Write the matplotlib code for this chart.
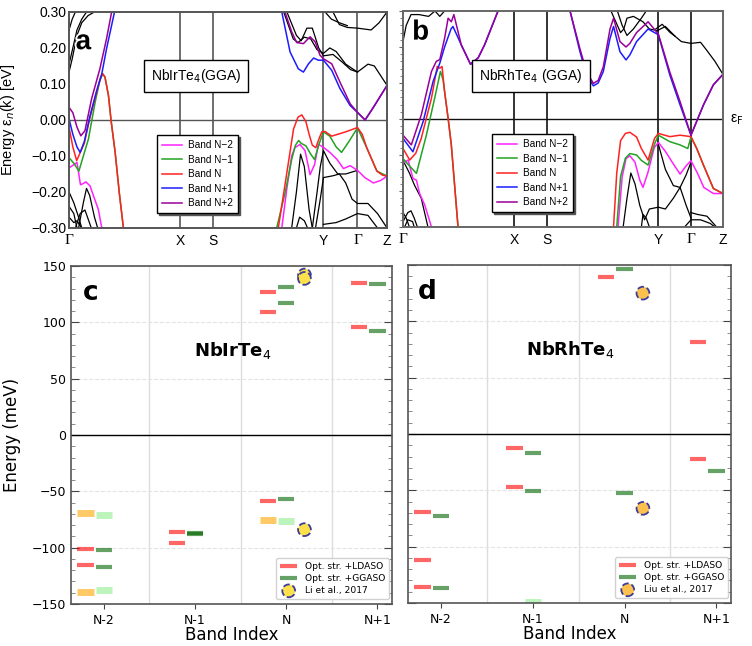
import matplotlib.pyplot as plt
import matplotlib.patheffects as pe
from matplotlib.ticker import MultipleLocator
import numpy as np

plt.rcParams['font.family'] = 'DejaVu Sans'

# ---------------- band structures (top row) ----------------
kpath_labels = ['\u0393', 'X', 'S', 'Y', '\u0393', 'Z']
a_kticks = [0.0, 0.349, 0.453, 0.800, 0.907, 1.0]
b_kticks = [0.0, 0.347, 0.450, 0.798, 0.900, 1.0]

band_names = ['Band N\u22122', 'Band N\u22121', 'Band N', 'Band N+1', 'Band N+2']
band_colors = ['#ff22ff', '#22a322', '#ff2222', '#1c1cff', '#990099']

# NbIrTe4 (k, E[eV]), one list per visible segment
a_n2 = [[(0, -0.133), (0.012, -0.126), (0.025, -0.118), (0.036, -0.18), (0.046, -0.176),
         (0.053, -0.172), (0.066, -0.183), (0.077, -0.211), (0.092, -0.248), (0.103, -0.30)],
        [(0.669, -0.30), (0.685, -0.19), (0.7, -0.1), (0.71, -0.077), (0.726, -0.068),
         (0.742, -0.085), (0.758, -0.152), (0.772, -0.124), (0.784, -0.068), (0.8, -0.076),
         (0.82, -0.09), (0.842, -0.109), (0.863, -0.135), (0.884, -0.127), (0.907, -0.14),
         (0.93, -0.16), (0.957, -0.175), (0.98, -0.168), (1.0, -0.156)]]
a_n1 = [[(0, -0.105), (0.015, -0.12), (0.031, -0.142), (0.045, -0.1), (0.061, -0.053),
         (0.082, 0.049), (0.097, 0.11), (0.106, 0.128), (0.113, 0.119), (0.124, 0.068),
         (0.132, 0.0), (0.145, -0.09), (0.158, -0.202), (0.171, -0.30)],
        [(0.653, -0.30), (0.68, -0.2), (0.7, -0.11), (0.712, -0.07), (0.722, -0.057),
         (0.73, -0.065), (0.745, -0.072), (0.76, -0.095), (0.772, -0.11), (0.785, -0.07),
         (0.795, -0.045), (0.8, -0.033), (0.82, -0.045), (0.84, -0.075), (0.857, -0.09),
         (0.88, -0.06), (0.907, -0.022), (0.936, -0.077), (0.968, -0.142), (1.0, -0.156)]]
a_n = [[(0, -0.02), (0.012, -0.075), (0.024, -0.113), (0.033, -0.095), (0.048, -0.065),
        (0.066, 0.007), (0.087, 0.077), (0.1, 0.12), (0.106, 0.128), (0.113, 0.119),
        (0.124, 0.068), (0.132, 0.0), (0.145, -0.09), (0.158, -0.202), (0.171, -0.30)],
       [(0.658, -0.30), (0.685, -0.146), (0.706, -0.025), (0.72, 0.008), (0.732, 0.014),
        (0.745, -0.005), (0.755, -0.04), (0.765, -0.07), (0.776, -0.077), (0.787, -0.05),
        (0.795, -0.033), (0.805, -0.032), (0.826, -0.045), (0.87, -0.033), (0.907, -0.021),
        (0.922, -0.04), (0.936, -0.077), (0.968, -0.142), (0.985, -0.153), (1.0, -0.156)]]
a_np1 = [[(0, 0.003), (0.012, -0.04), (0.025, -0.075), (0.035, -0.09), (0.048, -0.06),
          (0.066, 0.012), (0.087, 0.082), (0.103, 0.128), (0.118, 0.198), (0.143, 0.30)],
         [(0.669, 0.30), (0.695, 0.189), (0.721, 0.142), (0.737, 0.133), (0.753, 0.156),
          (0.769, 0.172), (0.784, 0.166), (0.8, 0.166), (0.826, 0.138), (0.852, 0.087),
          (0.884, 0.04), (0.907, 0.021), (0.931, 0.0), (0.957, 0.035), (1.0, 0.096)]]
a_np2 = [[(0, 0.035), (0.012, 0.02), (0.025, -0.02), (0.037, -0.044), (0.05, -0.03),
          (0.071, 0.059), (0.097, 0.142), (0.118, 0.226), (0.134, 0.30)],
         [(0.679, 0.30), (0.7, 0.245), (0.716, 0.215), (0.737, 0.212), (0.758, 0.231),
          (0.774, 0.217), (0.789, 0.18), (0.8, 0.17), (0.826, 0.156), (0.852, 0.105),
          (0.884, 0.045), (0.907, 0.021), (0.931, 0.0), (0.957, 0.035), (1.0, 0.096)]]
a_other = [
    [(0, 0.133), (0.01, 0.17), (0.025, 0.235), (0.04, 0.27), (0.06, 0.29), (0.08, 0.30)],
    [(0, 0.155), (0.012, 0.2), (0.025, 0.25), (0.04, 0.28), (0.055, 0.30)],
    [(0, 0.25), (0.01, 0.28), (0.02, 0.30)],
    [(0, -0.2), (0.015, -0.23), (0.03, -0.27), (0.04, -0.30)],
    [(0, -0.24), (0.015, -0.26), (0.025, -0.30)],
    [(0.03, -0.30), (0.045, -0.23), (0.055, -0.19), (0.065, -0.21), (0.08, -0.27), (0.09, -0.30)],
    [(0.02, -0.30), (0.035, -0.26), (0.05, -0.25), (0.062, -0.28), (0.07, -0.30)],
    [(0, -0.27), (0.015, -0.285), (0.025, -0.28), (0.04, -0.30)],
    [(0.675, 0.30), (0.705, 0.225), (0.72, 0.215), (0.74, 0.23), (0.76, 0.225), (0.78, 0.195),
     (0.8, 0.185), (0.82, 0.2), (0.84, 0.19), (0.87, 0.155), (0.907, 0.133), (0.94, 0.155),
     (0.96, 0.15), (1.0, 0.096)],
    [(0.685, 0.30), (0.715, 0.235), (0.73, 0.22), (0.748, 0.255), (0.765, 0.255), (0.785, 0.2),
     (0.8, 0.178), (0.83, 0.182), (0.86, 0.16), (0.885, 0.14), (0.907, 0.133)],
    [(0.83, 0.30), (0.85, 0.265), (0.875, 0.257), (0.907, 0.255), (0.95, 0.25), (0.975, 0.27), (1.0, 0.30)],
    [(0.805, 0.30), (0.825, 0.28), (0.85, 0.27), (0.875, 0.262)],
    [(0.7, -0.30), (0.715, -0.2), (0.728, -0.095), (0.74, -0.13), (0.755, -0.25), (0.765, -0.30)],
    [(0.765, -0.30), (0.78, -0.2), (0.79, -0.13), (0.8, -0.085), (0.82, -0.12), (0.845, -0.15),
     (0.87, -0.15), (0.907, -0.14)],
    [(0.775, -0.30), (0.79, -0.22), (0.8, -0.16), (0.83, -0.155), (0.85, -0.15), (0.87, -0.175),
     (0.89, -0.22), (0.907, -0.232), (0.94, -0.232), (0.97, -0.26), (1.0, -0.30)],
    [(0.8, -0.29), (0.84, -0.285), (0.87, -0.275), (0.907, -0.26), (0.94, -0.265), (0.97, -0.30)],
    [(0.715, -0.30), (0.725, -0.27), (0.74, -0.28), (0.75, -0.30)],
]

# NbRhTe4
b_n2 = [[(0, -0.123), (0.016, -0.114), (0.031, -0.165), (0.042, -0.17), (0.052, -0.207),
         (0.068, -0.239), (0.089, -0.30)],
        [(0.672, -0.30), (0.685, -0.16), (0.697, -0.11), (0.709, -0.102), (0.725, -0.12),
         (0.74, -0.17), (0.75, -0.19), (0.765, -0.15), (0.785, -0.08), (0.798, -0.065),
         (0.82, -0.09), (0.845, -0.125), (0.866, -0.153), (0.885, -0.13), (0.9, -0.116),
         (0.92, -0.15), (0.94, -0.19), (0.97, -0.207), (1.0, -0.207)]]
b_n1 = [[(0, -0.11), (0.02, -0.13), (0.042, -0.151), (0.073, -0.045), (0.099, 0.058),
         (0.117, 0.132), (0.125, 0.11), (0.141, 0.002), (0.151, -0.072), (0.172, -0.30)],
        [(0.668, -0.30), (0.68, -0.16), (0.695, -0.109), (0.709, -0.096), (0.73, -0.10),
         (0.745, -0.115), (0.766, -0.128), (0.786, -0.07), (0.798, -0.045), (0.834, -0.063),
         (0.866, -0.072), (0.89, -0.082), (0.9, -0.05), (0.918, -0.082), (0.939, -0.128),
         (0.97, -0.193), (1.0, -0.207)]]
b_n = [[(0, -0.082), (0.021, -0.114), (0.04, -0.095), (0.057, -0.054), (0.089, 0.058),
        (0.107, 0.146), (0.115, 0.141), (0.122, 0.146), (0.13, 0.076), (0.141, 0.002),
        (0.151, -0.072), (0.172, -0.30)],
       [(0.658, -0.30), (0.668, -0.15), (0.68, -0.06), (0.695, -0.04), (0.709, -0.037),
        (0.73, -0.05), (0.745, -0.082), (0.766, -0.114), (0.786, -0.054), (0.798, -0.04),
        (0.834, -0.049), (0.866, -0.045), (0.9, -0.049), (0.918, -0.082), (0.939, -0.128),
        (0.97, -0.193), (1.0, -0.207)]]
b_np1 = [[(0, -0.054), (0.031, -0.091), (0.063, -0.007), (0.094, 0.104), (0.115, 0.155),
          (0.13, 0.2), (0.15, 0.25), (0.156, 0.257), (0.17, 0.23), (0.182, 0.206),
          (0.211, 0.152), (0.235, 0.17), (0.255, 0.206), (0.297, 0.30)],
         [(0.522, 0.30), (0.553, 0.187), (0.574, 0.122), (0.595, 0.092), (0.61, 0.1),
          (0.626, 0.132), (0.647, 0.224), (0.658, 0.257), (0.678, 0.187), (0.697, 0.164),
          (0.709, 0.178), (0.73, 0.215), (0.766, 0.25), (0.798, 0.234), (0.834, 0.122),
          (0.866, 0.039), (0.9, -0.045), (0.939, 0.039), (0.97, 0.095), (1.0, 0.124)]]
b_np2 = [[(0, -0.045), (0.026, -0.072), (0.057, 0.011), (0.089, 0.132), (0.104, 0.16),
          (0.115, 0.165), (0.13, 0.224), (0.141, 0.28), (0.151, 0.27), (0.159, 0.29),
          (0.182, 0.206), (0.211, 0.152), (0.235, 0.17), (0.255, 0.206), (0.297, 0.30)],
         [(0.522, 0.30), (0.553, 0.195), (0.574, 0.13), (0.595, 0.099), (0.61, 0.107),
          (0.626, 0.145), (0.647, 0.25), (0.658, 0.28), (0.678, 0.215), (0.697, 0.2),
          (0.709, 0.21), (0.73, 0.24), (0.766, 0.27), (0.798, 0.236), (0.834, 0.13),
          (0.866, 0.048), (0.9, -0.045), (0.939, 0.039), (0.97, 0.095), (1.0, 0.124)]]
b_other = [
    [(0, -0.115), (0.02, -0.15), (0.036, -0.184), (0.057, -0.22), (0.078, -0.30)],
    [(0, -0.26), (0.01, -0.275), (0.02, -0.30)],
    [(0, -0.285), (0.015, -0.26), (0.025, -0.255), (0.035, -0.275), (0.045, -0.30)],
    [(0.005, -0.30), (0.015, -0.28), (0.03, -0.285), (0.035, -0.30)],
    [(0, 0.215), (0.01, 0.26), (0.025, 0.29), (0.05, 0.29), (0.08, 0.285), (0.1, 0.30),
     (0.115, 0.285), (0.13, 0.30)],
    [(0.798, 0.247), (0.82, 0.257), (0.85, 0.23), (0.87, 0.215), (0.9, 0.21), (0.93, 0.213),
     (0.95, 0.19), (0.975, 0.16), (1.0, 0.124)],
    [(0.79, 0.25), (0.81, 0.263), (0.835, 0.24), (0.85, 0.23)],
    [(0.65, 0.30), (0.665, 0.27), (0.68, 0.24), (0.69, 0.25), (0.7, 0.28), (0.72, 0.285),
     (0.75, 0.27), (0.77, 0.25), (0.798, 0.245)],
    [(0.67, 0.30), (0.685, 0.26), (0.7, 0.232), (0.72, 0.25), (0.745, 0.28), (0.76, 0.30)],
    [(0.688, -0.30), (0.7, -0.22), (0.712, -0.15), (0.725, -0.18), (0.74, -0.24), (0.755, -0.28),
     (0.77, -0.25), (0.798, -0.245), (0.82, -0.25), (0.845, -0.22), (0.866, -0.19),
     (0.885, -0.155), (0.9, -0.12)],
    [(0.798, -0.07), (0.82, -0.14), (0.845, -0.185), (0.866, -0.19), (0.885, -0.24), (0.9, -0.275)],
    [(0.9, -0.26), (0.92, -0.265), (0.95, -0.27), (0.98, -0.30)],
    [(0.88, -0.30), (0.9, -0.28), (0.93, -0.28), (0.96, -0.29), (0.975, -0.30)],
    [(0.745, -0.30), (0.75, -0.265), (0.76, -0.275), (0.77, -0.30)],
]

# ---------------- energy levels (bottom row), meV ----------------
band_index = ['N-2', 'N-1', 'N', 'N+1']

c_lda_idx = [0, 0, 1, 1, 2, 2, 2, 3, 3]
c_lda_E = [-101, -115, -86, -95.5, 127, 109, -59, 134.5, 96]
c_gga_idx = [0, 0, 1, 1, 2, 2, 2, 3, 3]
c_gga_E = [-102, -117, -87, -88, 131.5, 117, -57, 133.7, 92]
c_lda2_idx = [0, 0, 2]
c_lda2_E = [-69, -139, -75]
c_gga2_idx = [0, 0, 2]
c_gga2_E = [-71, -137.5, -76]
c_ref_idx = [2, 2, 2]
c_ref_E = [142, 139, -84]

d_lda_idx = [0, 0, 0, 1, 1, 2, 3, 3]
d_lda_E = [-69.5, -111.5, -135.5, -12, -47.5, 139.5, 81.5, -22]
d_gga_idx = [0, 0, 1, 1, 2, 2, 3]
d_gga_E = [-72.5, -137, -17, -51, 146.5, -52.5, -33]
d_lda2_idx = []
d_lda2_E = []
d_gga2_idx = [1]
d_gga2_E = [-149]
d_ref_idx = [2, 2]
d_ref_E = [125, -66]

fig = plt.figure(figsize=(7.52, 6.46), dpi=100)

top_font = 'Liberation Sans'


def draw_bands(ax, bands, other, kticks, vline_color, spine_color):
    for seg in other:
        k, e = zip(*seg)
        ax.plot(k, e, color='black', lw=0.9)
    for segs, name, col in zip(bands, band_names, band_colors):
        for i, seg in enumerate(segs):
            k, e = zip(*seg)
            ax.plot(k, e, color=col, lw=1.1, label=name if i == 0 else None)
    for kv in kticks[1:-1]:
        ax.axvline(kv, color=vline_color, lw=1.2, zorder=0)
    ax.axhline(0, color=vline_color, lw=1.0, zorder=0)
    ax.set_xlim(0, 1)
    ax.set_ylim(-0.3, 0.3)
    ax.set_xticks(kticks)
    ax.set_xticklabels(kpath_labels, fontsize=10, fontfamily=top_font)
    for lab, txt in zip(ax.get_xticklabels(), kpath_labels):
        if txt == '\u0393':
            lab.set_fontfamily('Liberation Serif')
            lab.set_fontsize(11)
    ax.tick_params(axis='x', length=0, pad=4)
    for s in ax.spines.values():
        s.set_color(spine_color)
        s.set_linewidth(1.4)
    leg = ax.legend(loc='lower left', bbox_to_anchor=(0.277, 0.068), borderaxespad=0,
                    prop={'family': top_font, 'size': 7.2}, fancybox=False, edgecolor='black',
                    framealpha=1, handlelength=2.0, labelspacing=0.45, borderpad=0.5,
                    handletextpad=0.6,
                    shadow={'color': '#555555', 'alpha': 1, 'ox': 1.5, 'oy': -1.5})
    leg.get_frame().set_linewidth(1.0)


ax_a = fig.add_axes([0.0918, 0.6471, 0.4229, 0.3344])
draw_bands(ax_a, [a_n2, a_n1, a_n, a_np1, a_np2], a_other, a_kticks, '#555555', '#555555')
ax_a.set_yticks(np.arange(-0.3, 0.31, 0.1))
ax_a.set_yticklabels(['\u22120.30', '\u22120.20', '\u22120.10', '0.00', '0.10', '0.20', '0.30'],
                     fontsize=10, fontfamily=top_font)
ax_a.tick_params(axis='y', length=0, pad=2)
ax_a.set_ylabel('Energy \u03b5$_n$(k) [eV]', fontsize=10.5, fontfamily=top_font)
ax_a.yaxis.set_label_coords(-0.165, 0.5)
ax_a.text(0.40, 0.704, 'NbIrTe$_4$(GGA)', transform=ax_a.transAxes, ha='center', va='center',
          fontsize=10, fontfamily=top_font,
          bbox=dict(boxstyle='square,pad=0.5', fc='white', ec='black', lw=1.0))
ax_a.text(0.045, 0.86, 'a', transform=ax_a.transAxes, fontsize=20, fontweight='bold',
          fontfamily=top_font, ha='center', va='center',
          path_effects=[pe.withStroke(linewidth=2.5, foreground='white')])

ax_b = fig.add_axes([0.5359, 0.6486, 0.4255, 0.3344])
draw_bands(ax_b, [b_n2, b_n1, b_n, b_np1, b_np2], b_other, b_kticks, '#111111', '#666666')
ax_b.yaxis.set_major_locator(MultipleLocator(0.1))
ax_b.yaxis.set_minor_locator(MultipleLocator(0.02))
ax_b.tick_params(axis='y', which='major', length=3, labelleft=False, color='#666666')
ax_b.tick_params(axis='y', which='minor', length=2, color='#666666')
ax_b.text(0.40, 0.70, 'NbRhTe$_4$ (GGA)', transform=ax_b.transAxes, ha='center', va='center',
          fontsize=10, fontfamily=top_font,
          bbox=dict(boxstyle='square,pad=0.5', fc='white', ec='black', lw=1.0))
ax_b.text(0.055, 0.90, 'b', transform=ax_b.transAxes, fontsize=20, fontweight='bold',
          fontfamily=top_font, ha='center', va='center',
          path_effects=[pe.withStroke(linewidth=2.5, foreground='white')])
fig.text(737 / 752, 1 - 120 / 646, '\u03b5$_\\mathrm{F}$', fontsize=10, fontfamily=top_font,
         ha='center', va='center')


def draw_levels(ax, lda, gga, lda2, gga2, ref, ref_label, ref_face, name, letter):
    x, e = np.array(lda2[0], dtype=float), lda2[1]
    if len(e):
        ax.hlines(e, x - 0.29, x - 0.11, colors='orange', lw=5, alpha=0.6)
    x, e = np.array(gga2[0], dtype=float), gga2[1]
    ax.hlines(e, x - 0.09, x + 0.09, colors='lightgreen', lw=5, alpha=0.6)
    x, e = np.array(lda[0], dtype=float), lda[1]
    ax.hlines(e, x - 0.29, x - 0.11, colors='red', lw=3, alpha=0.6, label='Opt. str. +LDASO')
    x, e = np.array(gga[0], dtype=float), gga[1]
    ax.hlines(e, x - 0.09, x + 0.09, colors='darkgreen', lw=3, alpha=0.6, label='Opt. str. +GGASO')
    x, e = np.array(ref[0], dtype=float), ref[1]
    ax.scatter(x + 0.2, e, s=85, facecolor=ref_face, edgecolor='#3d3d99', linewidths=1.3,
               linestyle='--', zorder=5, label=ref_label)
    ax.axhline(0, color='black', lw=1.0)
    ax.set_xlim(-0.36, 3.16)
    ax.set_ylim(-150, 150)
    ax.set_xticks(range(len(band_index)))
    ax.set_xticklabels(band_index, fontsize=9)
    ax.set_xticks([0.5, 1.5, 2.5], minor=True)
    ax.grid(axis='x', which='minor', color='#dddddd', lw=1.0)
    ax.grid(axis='y', which='major', color='#e4e4e4', lw=0.8, ls='--')
    ax.set_axisbelow(True)
    ax.yaxis.set_major_locator(MultipleLocator(50))
    ax.yaxis.set_minor_locator(MultipleLocator(10))
    ax.tick_params(axis='x', which='major', direction='out', length=3.5, color='#444444')
    ax.tick_params(axis='x', which='minor', length=0)
    ax.tick_params(axis='y', which='both', direction='in', left=True, right=True, color='#444444')
    ax.tick_params(axis='y', which='major', length=6, labelsize=9)
    ax.tick_params(axis='y', which='minor', length=3, color='#777777')
    for s in ax.spines.values():
        s.set_color('#555555')
        s.set_linewidth(1.2)
    ax.set_xlabel('Band Index', fontsize=12)
    ax.xaxis.set_label_coords(0.5, -0.066)
    ax.text(1.41, 75, name, fontsize=13, fontweight='bold', ha='center', va='center')
    ax.text(0.06, 0.92, letter, transform=ax.transAxes, fontsize=19, fontweight='bold',
            ha='center', va='center')
    ax.legend(loc='lower right', bbox_to_anchor=(0.99, 0.015), borderaxespad=0, fontsize=6.6,
              handlelength=1.9, labelspacing=0.35, framealpha=0.9)


ax_c = fig.add_axes([0.0944, 0.0650, 0.4269, 0.5232])
draw_levels(ax_c, (c_lda_idx, c_lda_E), (c_gga_idx, c_gga_E), (c_lda2_idx, c_lda2_E),
            (c_gga2_idx, c_gga2_E), (c_ref_idx, c_ref_E), 'Li et al., 2017', '#fde04a',
            'NbIrTe$_\\mathrm{4}$', 'c')
ax_c.set_ylabel('Energy (meV)', fontsize=12)
ax_c.yaxis.set_label_coords(-0.155, 0.5)

ax_d = fig.add_axes([0.5426, 0.0666, 0.4295, 0.5232])
draw_levels(ax_d, (d_lda_idx, d_lda_E), (d_gga_idx, d_gga_E), (d_lda2_idx, d_lda2_E),
            (d_gga2_idx, d_gga2_E), (d_ref_idx, d_ref_E), 'Liu et al., 2017', '#fcc04f',
            'NbRhTe$_\\mathrm{4}$', 'd')
ax_d.tick_params(axis='y', labelleft=False)

fig.savefig('out.png', dpi=100)
